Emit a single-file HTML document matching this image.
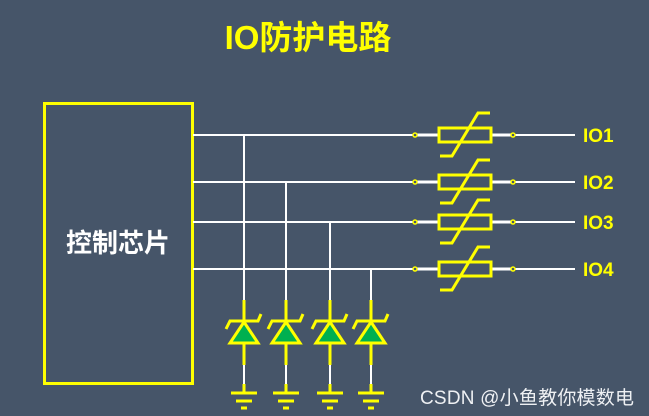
<!DOCTYPE html>
<html><head><meta charset="utf-8"><style>
html,body{margin:0;padding:0;background:#465569;}
svg{display:block}
</style></head><body>
<svg width="649" height="416" viewBox="0 0 649 416" xmlns="http://www.w3.org/2000/svg">
<rect width="649" height="416" fill="#465569"/>
<text x="308" y="49" text-anchor="middle" font-family="Liberation Sans, Noto Sans CJK SC, sans-serif" font-weight="bold" font-size="33" fill="#ffff00">IO防护电路</text>
<rect x="44.5" y="103.5" width="148" height="280" fill="none" stroke="#ffff00" stroke-width="3"/>
<text x="118" y="252" text-anchor="middle" font-family="Liberation Sans, Noto Sans CJK SC, sans-serif" font-weight="bold" font-size="26" fill="#ffffff">控制芯片</text>
<g stroke="#ffffff" stroke-width="2" fill="none">
<line x1="193" y1="135" x2="415" y2="135"/><line x1="193" y1="182" x2="415" y2="182"/>
<line x1="193" y1="222" x2="415" y2="222"/><line x1="193" y1="269" x2="415" y2="269"/>
<line x1="244" y1="135" x2="244" y2="300"/><line x1="286" y1="182" x2="286" y2="300"/>
<line x1="330" y1="222" x2="330" y2="300"/><line x1="371" y1="269" x2="371" y2="300"/>
</g>
<g font-family="Liberation Sans, sans-serif" font-weight="bold" font-size="19" fill="#ffff00">
<text x="583" y="142">IO1</text><text x="583" y="189">IO2</text><text x="583" y="229">IO3</text><text x="583" y="276">IO4</text>
</g>
<g>
<g transform="translate(0,135)"><line x1="415" y1="0" x2="438" y2="0" stroke="#fff" stroke-width="3"/><line x1="491" y1="0" x2="513" y2="0" stroke="#fff" stroke-width="3"/><line x1="513" y1="0" x2="575" y2="0" stroke="#fff" stroke-width="2"/><rect x="439" y="-7" width="52" height="14" fill="none" stroke="#ff0" stroke-width="3"/><polyline points="440,21 452,21 478,-22 490,-22" fill="none" stroke="#ff0" stroke-width="3"/><circle cx="415" cy="0" r="2" fill="#465569" stroke="#ff0" stroke-width="1.5"/><circle cx="513" cy="0" r="2" fill="#465569" stroke="#ff0" stroke-width="1.5"/></g>
<g transform="translate(0,182)"><line x1="415" y1="0" x2="438" y2="0" stroke="#fff" stroke-width="3"/><line x1="491" y1="0" x2="513" y2="0" stroke="#fff" stroke-width="3"/><line x1="513" y1="0" x2="575" y2="0" stroke="#fff" stroke-width="2"/><rect x="439" y="-7" width="52" height="14" fill="none" stroke="#ff0" stroke-width="3"/><polyline points="440,21 452,21 478,-22 490,-22" fill="none" stroke="#ff0" stroke-width="3"/><circle cx="415" cy="0" r="2" fill="#465569" stroke="#ff0" stroke-width="1.5"/><circle cx="513" cy="0" r="2" fill="#465569" stroke="#ff0" stroke-width="1.5"/></g>
<g transform="translate(0,222)"><line x1="415" y1="0" x2="438" y2="0" stroke="#fff" stroke-width="3"/><line x1="491" y1="0" x2="513" y2="0" stroke="#fff" stroke-width="3"/><line x1="513" y1="0" x2="575" y2="0" stroke="#fff" stroke-width="2"/><rect x="439" y="-7" width="52" height="14" fill="none" stroke="#ff0" stroke-width="3"/><polyline points="440,21 452,21 478,-22 490,-22" fill="none" stroke="#ff0" stroke-width="3"/><circle cx="415" cy="0" r="2" fill="#465569" stroke="#ff0" stroke-width="1.5"/><circle cx="513" cy="0" r="2" fill="#465569" stroke="#ff0" stroke-width="1.5"/></g>
<g transform="translate(0,269)"><line x1="415" y1="0" x2="438" y2="0" stroke="#fff" stroke-width="3"/><line x1="491" y1="0" x2="513" y2="0" stroke="#fff" stroke-width="3"/><line x1="513" y1="0" x2="575" y2="0" stroke="#fff" stroke-width="2"/><rect x="439" y="-7" width="52" height="14" fill="none" stroke="#ff0" stroke-width="3"/><polyline points="440,21 452,21 478,-22 490,-22" fill="none" stroke="#ff0" stroke-width="3"/><circle cx="415" cy="0" r="2" fill="#465569" stroke="#ff0" stroke-width="1.5"/><circle cx="513" cy="0" r="2" fill="#465569" stroke="#ff0" stroke-width="1.5"/></g>
</g>
<g id="d1" transform="translate(244,0)">
<line x1="0" y1="300" x2="0" y2="322" stroke="#ff0" stroke-width="3"/>
<line x1="0" y1="343" x2="0" y2="365" stroke="#ff0" stroke-width="3"/>
<line x1="0" y1="365" x2="0" y2="385" stroke="#fff" stroke-width="2"/>
<polygon points="0,322 -14,343 14,343" fill="#00b050" stroke="#ff0" stroke-width="3"/>
<polyline points="-18,329 -14,321 14,321 17,314" fill="none" stroke="#ff0" stroke-width="3"/>
<line x1="0" y1="384" x2="0" y2="393" stroke="#ff0" stroke-width="3"/>
<line x1="-13" y1="393" x2="13" y2="393" stroke="#ff0" stroke-width="3"/>
<line x1="-8" y1="401" x2="8" y2="401" stroke="#ff0" stroke-width="3"/>
<line x1="-3" y1="408" x2="3" y2="408" stroke="#ff0" stroke-width="3"/>
</g>
<use href="#d1" transform="translate(42,0)"/>
<use href="#d1" transform="translate(86,0)"/>
<use href="#d1" transform="translate(127,0)"/>
<text x="420" y="404" font-family="Liberation Sans, Noto Sans CJK SC, sans-serif" font-size="19" fill="#eef0f3" textLength="214">CSDN @小鱼教你模数电</text>
</svg>
</body></html>
